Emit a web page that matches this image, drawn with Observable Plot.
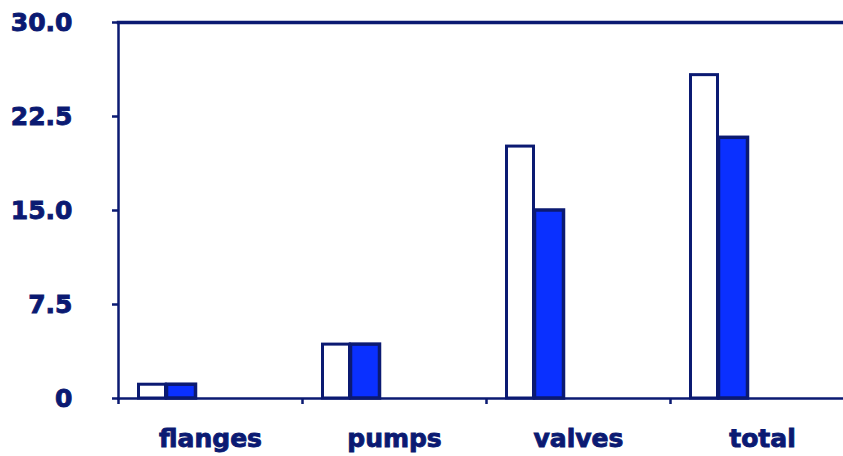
<!DOCTYPE html>
<html>
<head>
<meta charset="utf-8">
<script src="https://cdn.jsdelivr.net/npm/d3@7"></script>
<script src="https://cdn.jsdelivr.net/npm/@observablehq/plot@0.6"></script>
<style>
  html, body { margin: 0; padding: 0; background: #fff; }
  #chart svg text { stroke: #0b1a72; stroke-width: 0.9px; paint-order: stroke; }
</style>
</head>
<body>
<div id="chart"></div>
<script>
const categories = ["flanges", "pumps", "valves", "total"];
const seriesA = [1.1, 4.3, 20.1, 25.8];   // white bars
const seriesB = [1.1, 4.3, 15.0, 20.8];   // blue bars
const yTicks = [0, 7.5, 15, 22.5, 30];

const navy = "#0b1a72";
const blue = "#0a30ff";

const rowsA = categories.map((c, i) => ({category: c, value: seriesA[i]}));
const rowsB = categories.map((c, i) => ({category: c, value: seriesB[i]}));

const W = 843, H = 456;
const band = 184;

const chart = Plot.plot({
  width: W,
  height: H,
  marginLeft: 118,
  marginRight: 0,
  marginTop: 22,
  marginBottom: 58,
  style: {fontFamily: "'DejaVu Sans', Verdana, sans-serif", fontWeight: "bold", color: navy, background: "#fff", overflow: "visible"},
  x: {domain: categories, range: [118, 118 + band * categories.length], padding: 0, axis: null},
  y: {domain: [0, 30], axis: null},
  marks: [
    Plot.barY(rowsA, {x: "category", y: "value", fill: "#fff", stroke: navy, strokeWidth: 3, insetLeft: 20.5, insetRight: band - 47.5}),
    Plot.barY(rowsB, {x: "category", y: "value", fill: blue, stroke: navy, strokeWidth: 3.5, insetLeft: 48.5, insetRight: band - 77.5}),
    Plot.frame({anchor: "left", stroke: navy, strokeWidth: 2.5}),
    Plot.frame({anchor: "bottom", stroke: navy, strokeWidth: 2.5}),
    Plot.frame({anchor: "top", stroke: navy, strokeWidth: 3.5}),
    Plot.axisY({ticks: yTicks, tickFormat: d => d === 0 ? "0" : d.toFixed(1), tickSize: 6, tickPadding: 40, fontSize: 25, stroke: navy, strokeWidth: 2.5, fill: navy, label: null}),
    Plot.axisX({tickSize: 6, dx: -band / 2, tickFormat: () => "", stroke: navy, strokeWidth: 2.5, label: null}),
    Plot.axisX({tickSize: 0, tickPadding: 31, fontSize: 25, fill: navy, label: null})
  ]
});
document.getElementById("chart").appendChild(chart);
</script>
</body>
</html>
